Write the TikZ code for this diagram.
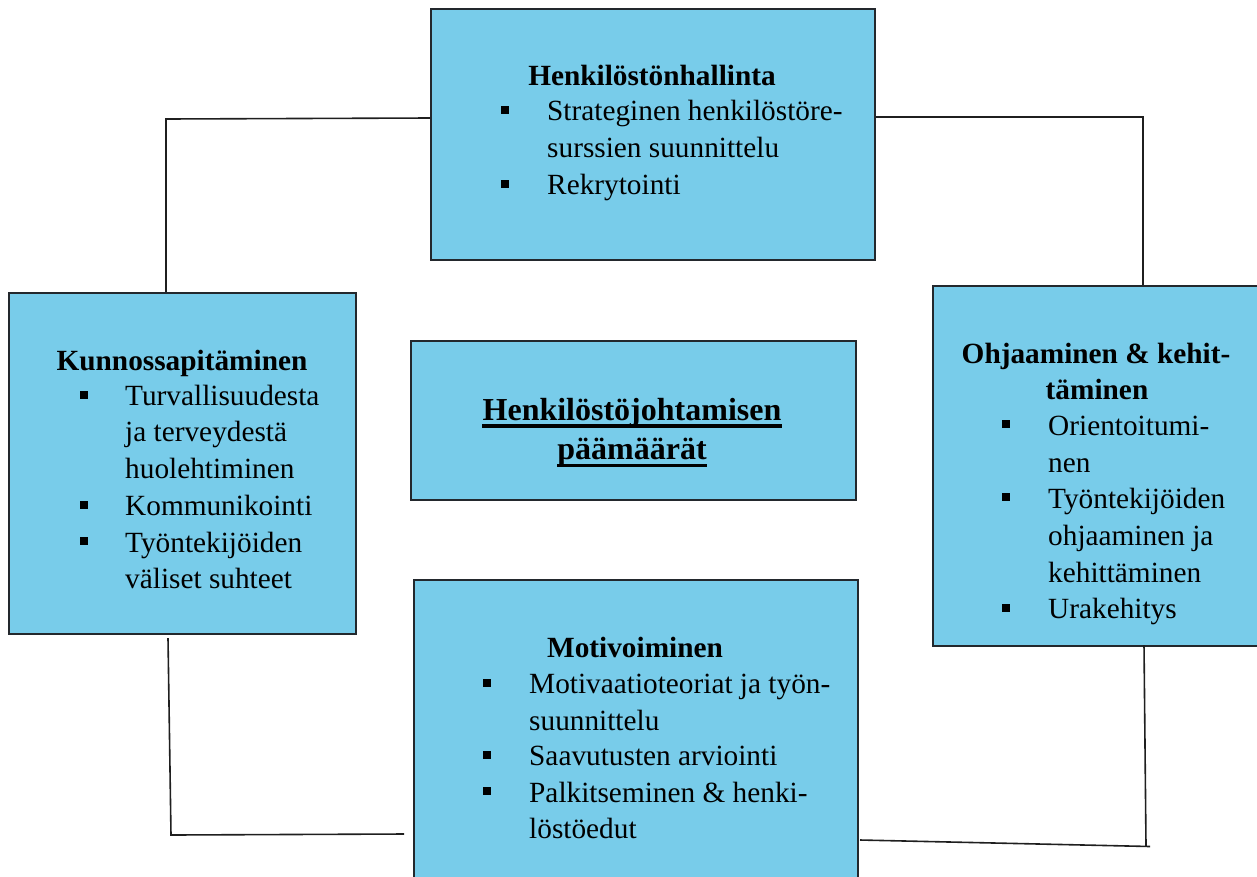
\documentclass[tikz,border=0pt]{standalone}
\usepackage{fontspec}
\setmainfont{Liberation Serif}
\definecolor{boxblue}{RGB}{120,204,234}
\definecolor{edge}{RGB}{35,40,45}
\begin{document}
\begin{tikzpicture}[x=1pt,y=-1pt,
  box/.style={draw=edge,line width=1.6pt,fill=boxblue,inner sep=0pt,anchor=north west,rectangle},
  txt/.style={inner sep=0pt,anchor=base west,font=\fontsize{29.3}{36.7}\selectfont},
  ttl/.style={inner sep=0pt,anchor=base,font=\fontsize{29.3}{36.7}\selectfont\bfseries},
  ctl/.style={inner sep=0pt,anchor=base,font=\fontsize{32}{38}\selectfont\bfseries},
  bul/.style={fill=black,inner sep=0pt,minimum size=7.5pt,rectangle},
  conn/.style={draw=black!88,line width=1.6pt}]
\useasboundingbox (0,0) rectangle (1257,876);
\begin{scope}
\clip (0,0) rectangle (1257,876);
% boxes
\node[box,minimum width=444pt,minimum height=251pt] (hr) at (430,8) {};
\node[box,minimum width=347pt,minimum height=341pt] (kp) at (8,292) {};
\node[box,minimum width=340pt,minimum height=360pt] (oh) at (932,285) {};
\node[box,minimum width=445pt,minimum height=159pt] (ce) at (410,340) {};
\node[box,minimum width=444pt,minimum height=320pt] (mo) at (413,579) {};
\end{scope}
% connectors
\coordinate (c1) at (166,119);
\coordinate (c2) at (1143,117);
\coordinate (c3) at (171,835);
\coordinate (c3e) at (404,834);
\coordinate (c4) at (1146,846);
\coordinate (c4s) at (860,840);
\coordinate (c4e) at (1150,846.5);
\draw[conn] (hr.west |- 0,118) -- (c1) -- (c1 |- kp.north);
\draw[conn] (hr.east |- c2) -- (c2) -- (c2 |- oh.north);
\draw[conn] (168,638) -- (c3) -- (c3e);
\draw[conn] (1144,645) -- (c4);
\draw[conn] (c4s) -- (c4e);
% top box text
\node[ttl] (hrt) at (652,85) {Henkilöstönhallinta};
\node[bul] (hrb1) at (505,110) {};
\node[bul] (hrb2) at (505,184) {};
\node[txt] (hr1) at (547,120) {Strateginen henkilöstöre-};
\node[txt] (hr2) at (547,157) {surssien suunnittelu};
\node[txt] (hr3) at (547,194) {Rekrytointi};
% left box text
\node[ttl] (kpt) at (182,370) {Kunnossapitäminen};
\node[bul] (kpb1) at (84,395) {};
\node[bul] (kpb2) at (84,505) {};
\node[bul] (kpb3) at (84,541) {};
\node[txt] (kp1) at (125,405) {Turvallisuudesta};
\node[txt] (kp2) at (125,441) {ja terveydestä};
\node[txt] (kp3) at (125,478) {huolehtiminen};
\node[txt] (kp4) at (125,515) {Kommunikointi};
\node[txt] (kp5) at (125,552) {Työntekijöiden};
\node[txt] (kp6) at (125,588) {väliset suhteet};
% right box text
\node[ttl] (oht1) at (1096,363) {Ohjaaminen \& kehit-};
\node[ttl] (oht2) at (1097,399) {täminen};
\node[bul] (ohb1) at (1006,424) {};
\node[bul] (ohb2) at (1006,497) {};
\node[bul] (ohb3) at (1006,608) {};
\node[txt] (oh1) at (1048,435) {Orientoitumi-};
\node[txt] (oh2) at (1048,472) {nen};
\node[txt] (oh3) at (1048,508) {Työntekijöiden};
\node[txt] (oh4) at (1048,545) {ohjaaminen ja};
\node[txt] (oh5) at (1048,582) {kehittäminen};
\node[txt] (oh6) at (1048,618) {Urakehitys};
% bottom box text
\node[ttl] (mot) at (635,657) {Motivoiminen};
\node[bul] (mob1) at (487,683) {};
\node[bul] (mob2) at (487,755) {};
\node[bul] (mob3) at (487,791) {};
\node[txt] (mo1) at (529,693) {Motivaatioteoriat ja työn-};
\node[txt] (mo2) at (529,730) {suunnittelu};
\node[txt] (mo3) at (529,765) {Saavutusten arviointi};
\node[txt] (mo4) at (529,802) {Palkitseminen \& henki-};
\node[txt] (mo5) at (529,838) {löstöedut};
% centre text
\node[ctl] (ce1) at (632,420) {Henkilöstöjohtamisen};
\node[ctl] (ce2) at (632,459) {päämäärät};
\draw[line width=3.5pt] ([yshift=-5.8pt]ce1.base west) -- ([yshift=-5.8pt]ce1.base east);
\draw[line width=3.5pt] ([yshift=-6.5pt]ce2.base west) -- ([yshift=-6.5pt]ce2.base east);
\end{tikzpicture}
\end{document}
